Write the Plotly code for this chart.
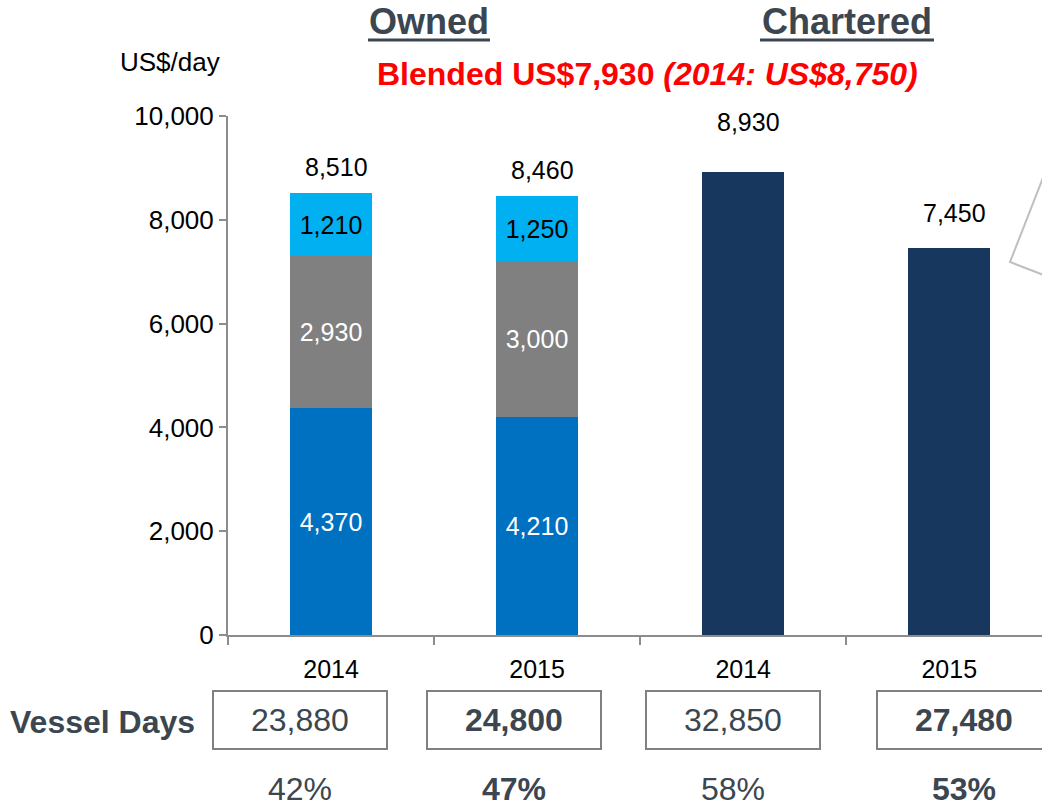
import plotly.graph_objects as go

# ---------------- data ----------------
categories = ["Owned 2014", "Owned 2015", "Chartered 2014", "Chartered 2015"]
year_labels = ["2014", "2015", "2014", "2015"]
owned_base = [4370, 4210, None, None]      # blue segment
owned_mid = [2930, 3000, None, None]       # grey segment
owned_top = [1210, 1250, None, None]       # light-blue segment
chartered = [None, None, 8930, 7450]
totals = [8510, 8460, 8930, 7450]
vessel_days = [23880, 24800, 32850, 27480]
share_pct = [42, 47, 58, 53]
bold_flags = [False, True, False, True]

y_ticks = [0, 2000, 4000, 6000, 8000, 10000]

# ---------------- geometry helpers (screen pixel -> paper) ----------------
W, H = 1042, 806
L, R, T, B = 228, 0, 116, 171
PW = W - L - R
PH = H - T - B


def px(x):
    return (x - L) / PW


def py(y):
    return (H - B - y) / PH


SLATE = "#3B4650"
FONT = "Liberation Sans, Arial, sans-serif"

xs = list(range(len(categories)))


def fmt(v):
    return None if v is None else f"{v:,}"


fig = go.Figure()

bar_w = 0.40
segments = [
    (owned_base, "#0070C0", "white", True),
    (owned_mid, "#808080", "white", True),
    (owned_top, "#00B0F0", "black", True),
    (chartered, "#17375E", "white", False),
]
for vals, color, tcolor, labelled in segments:
    fig.add_trace(go.Bar(
        x=xs, y=vals, width=bar_w,
        marker=dict(color=color, line=dict(width=0)),
        text=[fmt(v) if (v is not None and labelled) else "" for v in vals],
        textposition="inside", insidetextanchor="middle", textangle=0,
        constraintext="none",
        textfont=dict(family=FONT, size=25, color=tcolor),
        hoverinfo="skip", showlegend=False,
    ))

# total labels above bars
total_shift = [26, 26, 50, 35]
annotations = []
for x, t, s in zip(xs, totals, total_shift):
    annotations.append(dict(
        x=x, y=t, xref="x", yref="y", text=f"{t:,}", showarrow=False,
        yshift=s, xshift=5, xanchor="center", yanchor="middle",
        font=dict(family=FONT, size=25, color="black"),
    ))


def note(x, y, text, size, color):
    return dict(x=px(x), y=py(y), xref="paper", yref="paper", text=text,
                showarrow=False, xanchor="center", yanchor="middle",
                font=dict(family=FONT, size=size, color=color))


annotations += [
    note(429, 22, "<b>Owned</b>", 36, SLATE),
    note(847, 22, "<b>Chartered</b>", 36, SLATE),
    note(647, 74, "<b>Blended US$7,930 <i>(2014: US$8,750)</i></b>", 32, "#FF0000"),
    note(170, 62, "US$/day", 26, "black"),
    note(102, 722, "<b>Vessel Days</b>", 32, SLATE),
]

shapes = [
    dict(type="line", xref="paper", yref="paper", x0=px(368), x1=px(490),
         y0=py(40), y1=py(40), line=dict(color=SLATE, width=3)),
    dict(type="line", xref="paper", yref="paper", x0=px(760), x1=px(934),
         y0=py(40), y1=py(40), line=dict(color=SLATE, width=3)),
    dict(type="path", xref="paper", yref="paper",
         path=f"M {px(1046)} {py(170)} L {px(1010)} {py(262)} L {px(1046)} {py(276)}",
         line=dict(color="#BFBFBF", width=2)),
]

BOX_LINE = dict(color="#808080", width=2)


def hline(x0, x1, y):
    return dict(type="line", xref="paper", yref="paper",
                x0=px(x0), x1=px(x1), y0=py(y), y1=py(y), line=BOX_LINE)


def vline(x, y0, y1):
    return dict(type="line", xref="paper", yref="paper",
                x0=px(x), x1=px(x), y0=py(y0), y1=py(y1), line=BOX_LINE)


box_left = [213, 427, 646, 877]
box_w = 174
for i, (vd, pct, bold) in enumerate(zip(vessel_days, share_pct, bold_flags)):
    x0 = box_left[i]
    x1 = x0 + box_w
    cx = x0 + box_w / 2
    shapes.append(hline(x0 - 1, min(x1, W + 2) + 1, 691))
    shapes.append(hline(x0 - 1, min(x1, W + 2) + 1, 749))
    shapes.append(vline(x0, 691, 749))
    if x1 <= W:
        shapes.append(vline(x1, 691, 749))
    t1 = f"{vd:,}"
    t2 = f"{pct}%"
    if bold:
        t1, t2 = f"<b>{t1}</b>", f"<b>{t2}</b>"
    annotations.append(note(cx, 720, t1, 32, SLATE))
    annotations.append(note(cx, 789, t2, 32, SLATE))

fig.update_layout(
    width=W, height=H,
    margin=dict(l=L, r=R, t=T, b=B, pad=0),
    paper_bgcolor="white", plot_bgcolor="white",
    barmode="stack", bargap=0,
    annotations=annotations, shapes=shapes,
    font=dict(family=FONT),
)

fig.update_xaxes(
    range=[-0.5, 3.45], tickmode="array", tickvals=xs, ticktext=year_labels,
    ticks="", showgrid=False, zeroline=False,
    showline=True, linecolor="#8C8C8C", linewidth=2,
    tickfont=dict(family=FONT, size=25, color="black"),
    ticklabelstandoff=11,
    minor=dict(tick0=-0.5, dtick=1, ticks="outside", ticklen=8,
               tickwidth=2, tickcolor="#8C8C8C", showgrid=False),
)
fig.update_yaxes(
    range=[0, 10000], tickmode="array", tickvals=y_ticks,
    tickformat=",", ticks="outside", ticklen=7, tickwidth=2, tickcolor="#8C8C8C",
    showgrid=False, zeroline=False,
    showline=True, linecolor="#8C8C8C", linewidth=2,
    tickfont=dict(family=FONT, size=26, color="black"),
)

fig.write_html(
    "out.html",
    config={"displayModeBar": False},
    post_script="document.body.style.margin='0px';document.body.style.overflow='hidden';",
)
